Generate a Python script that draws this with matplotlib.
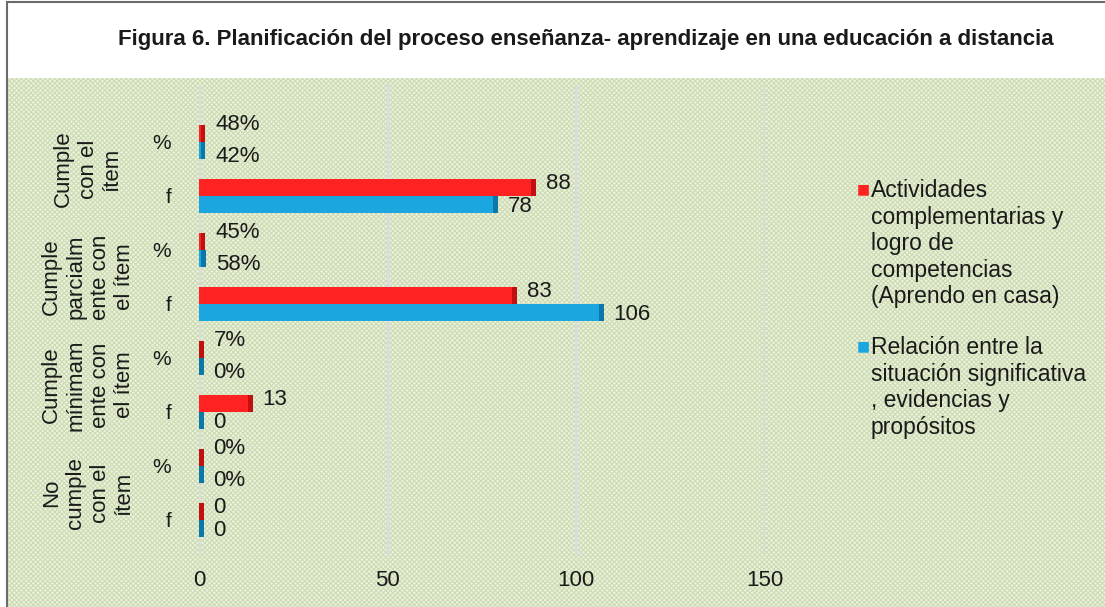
import numpy as np
import matplotlib.pyplot as plt
from matplotlib.patches import Rectangle
from matplotlib import transforms

plt.rcParams['font.family'] = ['Liberation Sans', 'DejaVu Sans']
plt.rcParams['hatch.linewidth'] = 0.8

# datos
grupos = ['Cumple\ncon el\nítem',
          'Cumple\nparcialm\nente con\nel ítem',
          'Cumple\nmínimam\nente con\nel ítem',
          'No\ncumple\ncon el\nítem']
filas = ['%', 'f']
series = ['Actividades\ncomplementarias y\nlogro de\ncompetencias\n(Aprendo en casa)',
          'Relación entre la\nsituación significativa\n, evidencias y\npropósitos']
pct_act = [48, 45, 7, 0]
pct_rel = [42, 58, 0, 0]
f_act = [88, 83, 13, 0]
f_rel = [78, 106, 0, 0]

W, H = 1105, 607
fig = plt.figure(figsize=(W / 100, H / 100), dpi=100)
fig.patch.set_facecolor('white')

# fondo verde con trama
fondo = Rectangle((8 / W, 0), 1, 1 - 78 / H, transform=fig.transFigure,
                  facecolor='#ebf2df', edgecolor='#cddbb2', hatch='xxxxxxx',
                  lw=0, zorder=-5)
fig.patches.append(fondo)
marco = Rectangle((7 / W, -0.01), 1.1, 1 - 2 / H + 0.01, transform=fig.transFigure,
                  facecolor='none', edgecolor='#6b6b6b', lw=1.5, zorder=-4)
fig.patches.append(marco)

fig.text(586 / W, 1 - 40 / H,
         'Figura 6. Planificación del proceso enseñanza- aprendizaje en una educación a distancia',
         ha='center', va='center', fontsize=16, fontweight='bold', color='#1a1a1a')

ax = fig.add_axes([199 / W, 1 - 555 / H, (765 - 199) / W, 470 / H])
ax.set_zorder(2)
ax.patch.set_visible(False)

act = []
rel = []
for g in range(len(grupos)):
    act += [pct_act[g] / 100, f_act[g]]
    rel += [pct_rel[g] / 100, f_rel[g]]
etq_act = []
etq_rel = []
for g in range(len(grupos)):
    etq_act += [f'{pct_act[g]}%', f'{f_act[g]}']
    etq_rel += [f'{pct_rel[g]}%', f'{f_rel[g]}']

y = np.arange(len(act))
h = 0.31
rojo, rojo_osc = '#ff2222', '#c01010'
azul, azul_osc = '#1ba6e0', '#0a78a8'
prof = 1.2

ax.barh(y - h / 2, act, height=h, color=rojo, zorder=3)
ax.barh(y + h / 2, rel, height=h, color=azul, zorder=3)
# cara lateral (efecto 3D)
ax.barh(y - h / 2, prof, left=act, height=h, color=rojo_osc, zorder=3)
ax.barh(y + h / 2, prof, left=rel, height=h, color=azul_osc, zorder=3)

for i in range(len(y)):
    es_pct = i % 2 == 0
    dy_a = 9 if es_pct else 4
    dy_r = -6 if es_pct else -2
    ax.annotate(etq_act[i], (act[i] + prof, y[i] - h / 2), xytext=(10, dy_a),
                textcoords='offset pixels', ha='left', va='center',
                fontsize=16, color='#1a1a1a', zorder=4)
    ax.annotate(etq_rel[i], (rel[i] + prof, y[i] + h / 2), xytext=(10, dy_r),
                textcoords='offset pixels', ha='left', va='center',
                fontsize=16, color='#1a1a1a', zorder=4)

ax.set_xlim(0, 150)
ax.set_ylim(7.65, -1.055)
ax.set_xticks([0, 50, 100, 150])
ax.set_xticklabels(['0', '50', '100', '150'], fontsize=16, color='#1a1a1a')
ax.set_yticks(y)
ax.set_yticklabels(filas * len(grupos), fontsize=15, color='#1a1a1a')
ax.tick_params(axis='x', length=0, pad=11)
ax.tick_params(axis='y', length=0, pad=20)
ax.grid(axis='x', color='#dcdcdc', lw=2.5, zorder=1)
ax.set_axisbelow(True)
for s in ax.spines.values():
    s.set_visible(False)

trans = transforms.blended_transform_factory(fig.transFigure, ax.transData)
for g, nombre in enumerate(grupos):
    ax.text(88 / W, 2 * g + 0.5, nombre, transform=trans, rotation=90,
            ha='center', va='center', multialignment='center',
            fontsize=16, color='#1a1a1a', linespacing=1.2)

# leyenda
ley_y = [189, 346]
for nombre, col, yy in zip(series, [rojo, azul], ley_y):
    fig.text(857 / W, 1 - yy / H, '■', color=col, fontsize=10,
             ha='left', va='center', family=['DejaVu Sans'])
    fig.text(871 / W, 1 - (yy - 10) / H, nombre, ha='left', va='top',
             fontsize=16.5, color='#1a1a1a', linespacing=1.2)

fig.savefig('out.png', dpi=100)
